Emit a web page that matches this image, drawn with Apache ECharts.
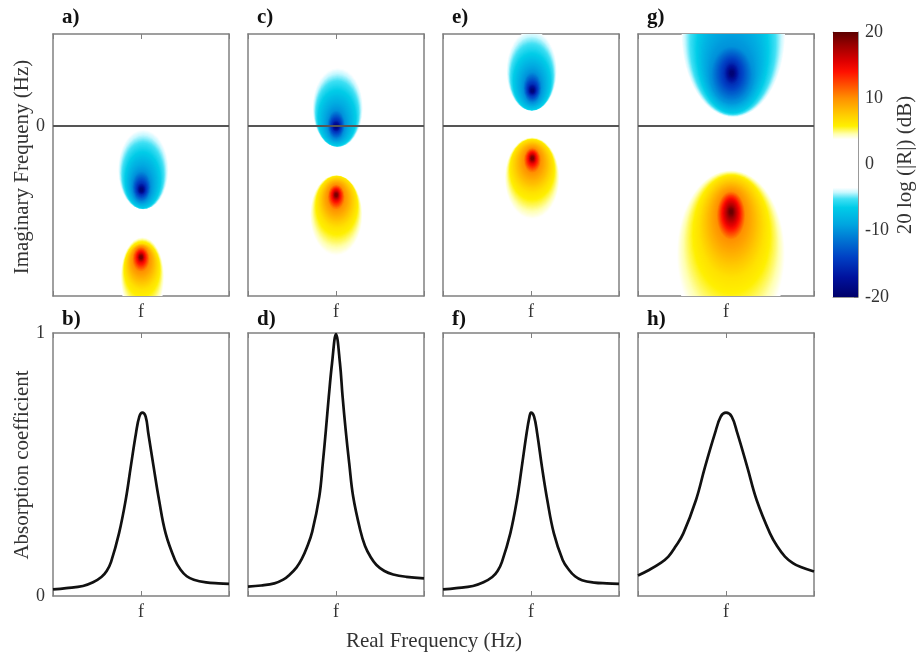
<!DOCTYPE html>
<html>
<head>
<meta charset="utf-8">
<title>Reflection maps and absorption</title>
<script src="https://cdn.jsdelivr.net/npm/echarts@6.0.0/dist/echarts.min.js"></script>
<style>
html, body { margin: 0; padding: 0; background: #fff; }
#chart { width: 916px; height: 652px; }
</style>
</head>
<body>
<div id="chart"></div>
<script type="text/javascript">
// panel letters
var topLetters = ['a)', 'c)', 'e)', 'g)'];
var bottomLetters = ['b)', 'd)', 'f)', 'h)'];

// zeros (blue) and poles (red): contour rings, outside -> in
// [x, y, rx, ry, dB]
var zeroA = [[0.026, -0.475, 0.284, 0.432, -3.6], [0.02, -0.587, 0.202, 0.308, -6.5], [0.005, -0.66, 0.11, 0.17, -10], [0.005, -0.685, 0.055, 0.07, -15], [0.005, -0.696, 0.012, 0.012, -20]];
var poleA = [[0.017, -1.657, 0.25, 0.453, 3.6], [0.01, -1.53, 0.19, 0.253, 6.5], [0.0, -1.45, 0.1, 0.14, 10], [0.0, -1.43, 0.045, 0.062, 15], [0.0, -1.427, 0.012, 0.012, 20]];
var zeroC = [[0.02, 0.198, 0.284, 0.429, -3.6], [0.011, 0.087, 0.216, 0.304, -6.5], [0.002, 0.011, 0.10, 0.163, -10], [0.002, 0.0, 0.055, 0.068, -15], [0.002, -0.008, 0.012, 0.012, -20]];
var poleC = [[0.002, -0.986, 0.303, 0.453, 3.6], [0.011, -0.832, 0.218, 0.28, 6.5], [0.002, -0.775, 0.1, 0.14, 10], [0.002, -0.754, 0.045, 0.064, 15], [0.002, -0.75, 0.012, 0.012, 20]];
var zeroE = [[0.008, 0.601, 0.284, 0.435, -3.6], [0.011, 0.482, 0.214, 0.308, -6.5], [0.015, 0.418, 0.105, 0.17, -10], [0.015, 0.395, 0.055, 0.07, -15], [0.015, 0.384, 0.012, 0.012, -20]];
var poleE = [[0.013, -0.582, 0.316, 0.459, 3.6], [0.013, -0.442, 0.236, 0.29, 6.5], [0.015, -0.375, 0.1, 0.14, 10], [0.015, -0.354, 0.045, 0.064, 15], [0.015, -0.351, 0.012, 0.012, 20]];
var zeroG = [[0.083, 1.011, 0.587, 0.913, -3.6], [0.074, 0.815, 0.407, 0.674, -6.5], [0.065, 0.56, 0.24, 0.31, -10], [0.065, 0.573, 0.09, 0.13, -15], [0.065, 0.573, 0.014, 0.014, -20]];
var poleG = [[0.055, -1.418, 0.634, 0.94, 3.6], [0.065, -1.103, 0.378, 0.552, 6.5], [0.057, -0.975, 0.165, 0.27, 10], [0.057, -0.95, 0.09, 0.15, 15], [0.057, -0.932, 0.014, 0.014, 20]];

// absorption curves
var xB = [-1, -0.85, -0.66, -0.545, -0.45, -0.39, -0.34, -0.25, -0.174, -0.117, -0.057, -0.019, 0.015, 0.053, 0.083, 0.144, 0.205, 0.28, 0.386, 0.45, 0.52, 0.6, 0.74, 0.88, 1];
var yB = [0.025, 0.03, 0.038, 0.052, 0.072, 0.095, 0.13, 0.238, 0.365, 0.49, 0.619, 0.682, 0.697, 0.682, 0.619, 0.49, 0.365, 0.238, 0.137, 0.1, 0.075, 0.062, 0.052, 0.048, 0.046];
var xD = [-1, -0.85, -0.7, -0.6, -0.53, -0.45, -0.39, -0.33, -0.27, -0.19, -0.15, -0.115, -0.082, -0.045, 0, 0.045, 0.075, 0.11, 0.15, 0.195, 0.275, 0.33, 0.39, 0.46, 0.55, 0.65, 0.8, 1];
var yD = [0.036, 0.04, 0.048, 0.062, 0.08, 0.108, 0.14, 0.185, 0.245, 0.378, 0.505, 0.631, 0.758, 0.885, 0.996, 0.885, 0.758, 0.631, 0.505, 0.378, 0.251, 0.19, 0.15, 0.118, 0.095, 0.082, 0.073, 0.067];
var xF = [-1, -0.85, -0.66, -0.54, -0.44, -0.38, -0.33, -0.235, -0.16, -0.105, -0.05, -0.017, 0, 0.035, 0.07, 0.125, 0.185, 0.26, 0.36, 0.43, 0.5, 0.58, 0.72, 0.86, 1];
var yF = [0.025, 0.03, 0.038, 0.052, 0.072, 0.095, 0.13, 0.238, 0.365, 0.49, 0.619, 0.682, 0.697, 0.682, 0.619, 0.49, 0.365, 0.238, 0.137, 0.1, 0.075, 0.06, 0.051, 0.048, 0.046];
var xH = [-1, -0.88, -0.75, -0.655, -0.57, -0.485, -0.341, -0.239, -0.125, -0.06, 0, 0.065, 0.129, 0.242, 0.348, 0.5, 0.58, 0.67, 0.76, 0.85, 1];
var yH = [0.078, 0.098, 0.124, 0.15, 0.19, 0.238, 0.365, 0.49, 0.619, 0.682, 0.697, 0.682, 0.619, 0.49, 0.365, 0.238, 0.19, 0.15, 0.125, 0.11, 0.093];

// colour bar
var dbMin = -20, dbMax = 20, dbStep = 10;

// jet with a white middle, dB -> colour
var cmap = [[-20, '#00006a'], [-17, '#00129e'], [-14, '#0040c4'], [-11.5, '#0072d2'], [-9, '#00a6e0'], [-6.5, '#00cce8'],
  [-5.2, '#40e0f4'], [-4.2, '#c8f8ff'], [-3.5, '#ffffff'], [3.8, '#ffffff'], [4.6, '#ffffb0'], [5.8, '#fff000'],
  [7.5, '#ffcc00'], [10, '#ff9000'], [12, '#ff5000'], [14, '#ff1000'], [15.5, '#e00000'], [18, '#9a0000'], [20, '#5c0000']];

function hexRgb(h) {
  return [parseInt(h.substr(1, 2), 16), parseInt(h.substr(3, 2), 16), parseInt(h.substr(5, 2), 16)];
}
function dbColor(v) {
  if (v <= cmap[0][0]) return cmap[0][1];
  for (var i = 1; i < cmap.length; i++) {
    if (v <= cmap[i][0]) {
      var a = hexRgb(cmap[i - 1][1]), b = hexRgb(cmap[i][1]);
      var t = (v - cmap[i - 1][0]) / (cmap[i][0] - cmap[i - 1][0]);
      return 'rgb(' + Math.round(a[0] + (b[0] - a[0]) * t) + ',' + Math.round(a[1] + (b[1] - a[1]) * t) + ',' + Math.round(a[2] + (b[2] - a[2]) * t) + ')';
    }
  }
  return cmap[cmap.length - 1][1];
}

function ringItems(rings) {
  var out = [];
  for (var i = 0; i < rings.length - 1; i++) out.push(rings[i].concat(rings[i + 1]));
  return out;
}
function pairs(xs, ys) {
  var out = [];
  for (var i = 0; i < xs.length; i++) out.push([xs[i], ys[i]]);
  return out;
}

// shade the band between two read contours: a stack of ellipses
// going from the outer contour to the inner one (acts as the gradient)
function renderRing(params, api) {
  var c0 = api.coord([api.value(0), api.value(1)]);
  var s0 = api.size([api.value(2), api.value(3)]);
  var c1 = api.coord([api.value(5), api.value(6)]);
  var s1 = api.size([api.value(7), api.value(8)]);
  var L0 = api.value(4), L1 = api.value(9);
  var span = Math.max(Math.abs(s0[0] - s1[0]), Math.abs(s0[1] - s1[1])) + Math.abs(c1[1] - c0[1]);
  var n = Math.max(4, Math.min(40, Math.ceil(span / 1.2)));
  var kids = [];
  for (var j = 0; j < n; j++) {
    var t = j / n;
    var rx = s0[0] + (s1[0] - s0[0]) * t, ry = s0[1] + (s1[1] - s0[1]) * t;
    kids.push({
      type: 'circle',
      x: c0[0] + (c1[0] - c0[0]) * t, y: c0[1] + (c1[1] - c0[1]) * t,
      scaleX: rx / ry, scaleY: 1,
      shape: {cx: 0, cy: 0, r: ry},
      style: {fill: dbColor(L0 + (L1 - L0) * t)}
    });
  }
  return {type: 'group', children: kids};
}

function renderBar(params, api) {
  var p0 = api.coord([0, api.value(1)]);
  var p1 = api.coord([1, api.value(2)]);
  var stops = [];
  for (var i = cmap.length - 1; i >= 0; i--) {
    stops.push({offset: (dbMax - cmap[i][0]) / (dbMax - dbMin), color: cmap[i][1]});
  }
  return {
    type: 'rect',
    shape: {x: p0[0], y: p0[1], width: p1[0] - p0[0], height: p1[1] - p0[1]},
    style: {fill: new echarts.graphic.LinearGradient(0, 0, 0, 1, stops)}
  };
}

var serif = 'Liberation Serif';
var frame = {show: true, onZero: false, lineStyle: {color: '#808080', width: 1.5}};
var thin = {show: true, onZero: false, lineStyle: {color: '#999', width: 1}};
var tickLbl = {color: '#333', fontFamily: serif, fontSize: 18};

var panelLeft = [53, 248, 443, 638];
var zeros = [zeroA, zeroC, zeroE, zeroG];
var poles = [poleA, poleC, poleE, poleG];
var curves = [[xB, yB], [xD, yD], [xF, yF], [xH, yH]];

var grids = [], xAxes = [], yAxes = [], series = [];

function addPanel(g, left, top, height, yMin, yMax, yLabels) {
  grids.push({left: left, top: top, width: 176, height: height});
  xAxes.push({
    gridIndex: g, type: 'value', min: -1, max: 1, interval: 1,
    axisLine: frame,
    axisTick: {show: true, inside: true, length: 5, lineStyle: {color: '#808080'}},
    axisLabel: Object.assign({margin: 7, formatter: function (v) { return v === 0 ? 'f' : ''; }}, tickLbl),
    splitLine: {show: false}
  });
  xAxes.push({
    gridIndex: g, type: 'value', position: 'top', min: -1, max: 1, interval: 1,
    axisLine: frame,
    axisTick: {show: true, inside: true, length: 5, lineStyle: {color: '#808080'}},
    axisLabel: {show: false}, splitLine: {show: false}
  });
  yAxes.push({
    gridIndex: g, type: 'value', min: yMin, max: yMax,
    axisLine: frame, axisTick: {show: false}, splitLine: {show: false},
    axisLabel: yLabels ? Object.assign({margin: 8, customValues: yLabels}, tickLbl) : {show: false}
  });
  yAxes.push({
    gridIndex: g, type: 'value', position: 'right', min: yMin, max: yMax,
    axisLine: frame, axisTick: {show: false}, splitLine: {show: false}, axisLabel: {show: false}
  });
  return {x: xAxes.length - 2, y: yAxes.length - 2};
}

for (var i = 0; i < 4; i++) {
  var ax = addPanel(i, panelLeft[i], 34, 262, -1.85, 1, i === 0 ? [0] : null);
  series.push({
    type: 'custom', xAxisIndex: ax.x, yAxisIndex: ax.y, clip: true, silent: true,
    renderItem: renderRing, data: ringItems(zeros[i]).concat(ringItems(poles[i]))
  });
  series.push({
    type: 'line', xAxisIndex: ax.x, yAxisIndex: ax.y, data: [], z: 10, silent: true,
    markLine: {
      silent: true, symbol: 'none', label: {show: false},
      lineStyle: {color: '#555', width: 2, type: 'solid'},
      data: [{yAxis: 0}]
    }
  });
}
for (i = 0; i < 4; i++) {
  var bx = addPanel(4 + i, panelLeft[i], 333, 263, 0, 1, i === 0 ? [0, 1] : null);
  series.push({
    type: 'line', xAxisIndex: bx.x, yAxisIndex: bx.y, smooth: 0.4,
    showSymbol: false, silent: true,
    lineStyle: {color: '#111', width: 2.7}, data: pairs(curves[i][0], curves[i][1])
  });
}

// colour bar
grids.push({left: 833, top: 32, width: 25, height: 265});
xAxes.push({gridIndex: 8, type: 'value', min: 0, max: 1, axisLine: thin, axisTick: {show: false}, axisLabel: {show: false}, splitLine: {show: false}});
xAxes.push({gridIndex: 8, type: 'value', position: 'top', min: 0, max: 1, axisLine: thin, axisTick: {show: false}, axisLabel: {show: false}, splitLine: {show: false}});
yAxes.push({gridIndex: 8, type: 'value', min: dbMin, max: dbMax, axisLine: thin, axisTick: {show: false}, axisLabel: {show: false}, splitLine: {show: false}});
yAxes.push({
  gridIndex: 8, type: 'value', position: 'right', min: dbMin, max: dbMax, interval: dbStep,
  axisLine: thin,
  axisTick: {show: true, inside: true, length: 4, lineStyle: {color: '#777'}},
  axisLabel: Object.assign({margin: 7}, tickLbl), splitLine: {show: false}
});
series.push({
  type: 'custom', xAxisIndex: xAxes.length - 2, yAxisIndex: yAxes.length - 2, silent: true,
  renderItem: renderBar, data: [[0, dbMax, dbMin]]
});

var graphics = [];
var letterStyle = {fontFamily: serif, fontSize: 21, fontWeight: 'bold', fill: '#111'};
for (i = 0; i < 4; i++) {
  graphics.push({type: 'text', left: panelLeft[i] + 9, top: 7, style: Object.assign({text: topLetters[i]}, letterStyle)});
  graphics.push({type: 'text', left: panelLeft[i] + 9, top: 309, style: Object.assign({text: bottomLetters[i]}, letterStyle)});
}
var titleStyle = {fontFamily: serif, fontSize: 21, fill: '#333', align: 'center', verticalAlign: 'middle'};
graphics.push({type: 'text', x: 22, y: 167, rotation: Math.PI / 2, style: Object.assign({text: 'Imaginary Frequeny (Hz)'}, titleStyle)});
graphics.push({type: 'text', x: 22, y: 465, rotation: Math.PI / 2, style: Object.assign({text: 'Absorption coefficient'}, titleStyle)});
graphics.push({type: 'text', x: 434, y: 641, style: Object.assign({text: 'Real Frequency (Hz)'}, titleStyle)});
graphics.push({type: 'text', x: 905, y: 165, rotation: Math.PI / 2, style: Object.assign({text: '20 log (|R|) (dB)'}, titleStyle)});

var myChart = echarts.init(document.getElementById('chart'), null, {renderer: 'canvas'});
var option = {
  animation: false,
  backgroundColor: '#fff',
  grid: grids,
  xAxis: xAxes,
  yAxis: yAxes,
  series: series,
  graphic: graphics
};
myChart.setOption(option);
</script>
</body>
</html>
